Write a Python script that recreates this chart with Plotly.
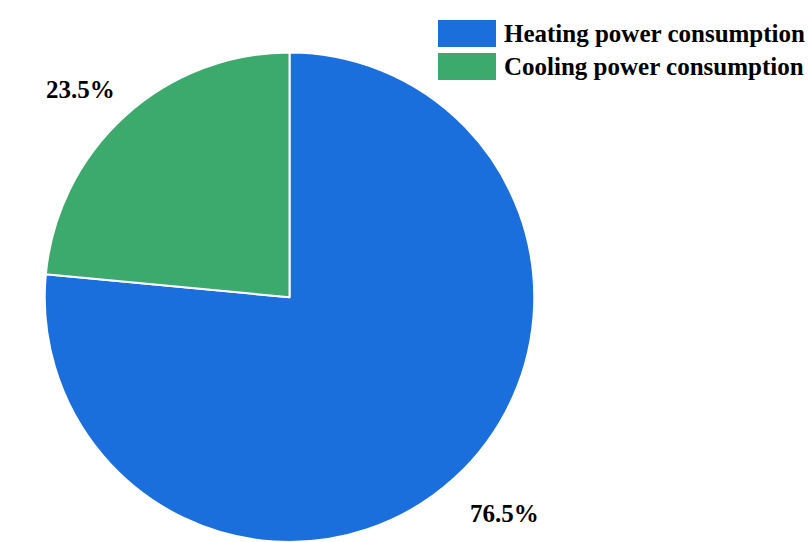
import plotly.graph_objects as go

# Share of annual power consumption
categories = ["Heating power consumption", "Cooling power consumption"]
shares = [76.5, 23.5]
colors = ["#1b6fdc", "#3caa6c"]

W, H = 808, 542
FONT = "Liberation Serif, Times New Roman, serif"


def px(x):
    return x / W


def py(y):
    return 1 - y / H


fig = go.Figure(
    go.Pie(
        labels=categories,
        values=shares,
        sort=False,
        direction="clockwise",
        rotation=0,
        marker=dict(colors=colors, line=dict(color="white", width=2)),
        textinfo="none",
        hoverinfo="label+percent",
        showlegend=False,
        domain=dict(x=[px(43), px(536)], y=[0, py(52.5)]),
    )
)

# Percentage labels beside each slice
label_pos = [(504, 513), (80, 90)]
annotations = []
for v, (lx, ly) in zip(shares, label_pos):
    annotations.append(
        dict(
            x=px(lx), y=py(ly), xref="paper", yref="paper",
            text=f"<b>{v}%</b>", showarrow=False,
            xanchor="center", yanchor="middle",
            font=dict(family=FONT, size=25, color="black"),
        )
    )

# Legend with wide colour swatches
shapes = []
row_top = [20, 53]
for name, col, top in zip(categories, colors, row_top):
    shapes.append(
        dict(
            type="rect", xref="paper", yref="paper",
            x0=px(438), x1=px(496), y0=py(top), y1=py(top + 27),
            fillcolor=col, line=dict(width=0),
        )
    )
    annotations.append(
        dict(
            x=px(502), y=py(top + 13.5), xref="paper", yref="paper",
            text=f"<b>{name}</b>", showarrow=False,
            xanchor="left", yanchor="middle",
            font=dict(family=FONT, size=25, color="black"),
        )
    )

fig.update_layout(
    width=W, height=H,
    margin=dict(l=0, r=0, t=0, b=0),
    paper_bgcolor="white", plot_bgcolor="white",
    shapes=shapes, annotations=annotations,
)

fig.write_html("out.html")
